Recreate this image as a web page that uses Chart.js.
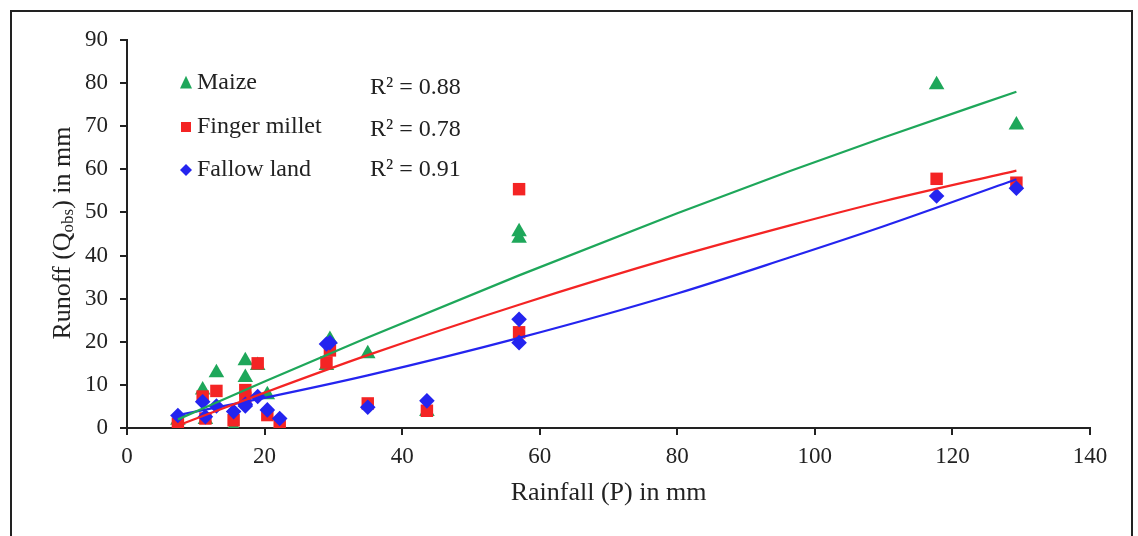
<!DOCTYPE html>
<html>
<head>
<meta charset="utf-8">
<script src="https://cdn.jsdelivr.net/npm/chart.js"></script>
<style>
  body { margin: 0; background: #fff; }
  #wrap { width: 1138px; height: 536px; }
</style>
</head>
<body>
<div id="wrap"><canvas id="grafico" width="1138" height="536"></canvas></div>
<script>
// Rainfall events (P, mm) and observed runoff (Q obs, mm) per land use
const rainfall     = [7.4, 11.0, 11.4, 13.0, 15.5, 17.2, 17.2, 19.0, 20.4, 22.2, 29.0, 29.5, 35.0, 43.6, 57.0, 57.0, 117.7, 129.3];
const maize        = [1.8, 8.8, 2.0, 12.8, 0.2, 15.6, 11.7, 14.5, 7.7, 0.5, 14.5, 20.5, 17.2, 3.8, 45.5, 44.0, 79.6, 70.3];
const fingerMillet = [1.0, 7.3, 2.2, 8.6, 1.8, 8.8, 7.0, 15.0, 3.0, 1.0, 15.2, 18.0, 5.7, 4.0, 55.4, 22.2, 57.8, 56.9];
const fallowLand   = [2.9, 6.1, 2.6, 5.1, 3.8, 5.1, 5.5, 7.3, 4.2, 2.2, 19.5, 19.8, 4.8, 6.3, 25.2, 19.8, 53.8, 55.6];

// trendlines
const trendX       = [7.4, 20, 35, 57, 80, 96.4, 110, 129.3];
const trendMaize   = [2.0, 10.8, 21.0, 35.4, 49.8, 59.6, 67.4, 78.0];
const trendMillet  = [0.6, 8.2, 16.9, 28.6, 39.8, 47.0, 52.6, 59.7];
const trendFallow  = [3.0, 7.0, 12.2, 20.9, 31.2, 39.6, 46.8, 57.7];

const seriesNames = ["Maize", "Finger millet", "Fallow land"];
const r2Values    = ["0.88", "0.78", "0.91"];
const colores     = ["#1ea75a", "#f42424", "#2424ef"];

const xTicks = [0, 20, 40, 60, 80, 100, 120, 140];
const yTicks = [0, 10, 20, 30, 40, 50, 60, 70, 80, 90];

const serif = "'Liberation Serif', 'Times New Roman', serif";
const ink = "#222";

function puntos(xs, ys) {
    return xs.map((x, i) => ({ x: x, y: ys[i] }));
}

function marcador(ctx, tipo, x, y, s, color) {
    ctx.fillStyle = color;
    ctx.beginPath();
    if (tipo === "triangle") {
        ctx.moveTo(x, y - s * 0.6);
        ctx.lineTo(x + s / 2, y + s * 0.45);
        ctx.lineTo(x - s / 2, y + s * 0.45);
    } else if (tipo === "rect") {
        ctx.rect(x - s / 2, y - s / 2, s, s);
    } else {
        ctx.moveTo(x, y - s / 2);
        ctx.lineTo(x + s / 2, y);
        ctx.lineTo(x, y + s / 2);
        ctx.lineTo(x - s / 2, y);
    }
    ctx.closePath();
    ctx.fill();
}

const extras = {
    id: "extras",
    beforeDraw(chart) {
        const ctx = chart.ctx;
        ctx.save();
        ctx.fillStyle = "#fff";
        ctx.fillRect(0, 0, chart.width, chart.height);
        ctx.strokeStyle = ink;
        ctx.lineWidth = 2;
        ctx.strokeRect(11, 11, 1121, 540);
        ctx.restore();
    },
    afterDraw(chart) {
        const ctx = chart.ctx;
        ctx.save();
        // legend + R² labels
        const tipos = ["triangle", "rect", "rectRot"];
        const tamanos = [12, 10, 12];
        const filasLeyenda = [83, 127, 170];
        const filasR2 = [88, 130, 170];
        ctx.font = "24px " + serif;
        ctx.textBaseline = "middle";
        ctx.textAlign = "left";
        seriesNames.forEach((nombre, i) => {
            marcador(ctx, tipos[i], 186, filasLeyenda[i], tamanos[i], colores[i]);
            ctx.fillStyle = ink;
            ctx.fillText(nombre, 197, filasLeyenda[i]);
            ctx.fillText("R\u00B2 = " + r2Values[i], 370, filasR2[i]);
        });

        // y axis title with subscript
        const partes = [["Runoff (Q", 26, 0], ["obs", 17, 6], [") in mm", 26, 0]];
        let total = 0;
        partes.forEach(p => { ctx.font = p[1] + "px " + serif; total += ctx.measureText(p[0]).width; });
        ctx.translate(63, 233);
        ctx.rotate(-Math.PI / 2);
        let xx = -total / 2;
        ctx.fillStyle = ink;
        partes.forEach(p => {
            ctx.font = p[1] + "px " + serif;
            ctx.fillText(p[0], xx, p[2]);
            xx += ctx.measureText(p[0]).width;
        });
        ctx.restore();
    }
};

const ctx = document.getElementById("grafico").getContext("2d");

new Chart(ctx, {
    type: "scatter",
    data: {
        datasets: [
            { label: "Maize trend", data: puntos(trendX, trendMaize), showLine: true, borderColor: colores[0], borderWidth: 2.2, pointRadius: 0, cubicInterpolationMode: "monotone", order: 0 },
            { label: "Finger millet trend", data: puntos(trendX, trendMillet), showLine: true, borderColor: colores[1], borderWidth: 2.2, pointRadius: 0, cubicInterpolationMode: "monotone", order: 0 },
            { label: "Fallow land trend", data: puntos(trendX, trendFallow), showLine: true, borderColor: colores[2], borderWidth: 2.2, pointRadius: 0, cubicInterpolationMode: "monotone", order: 0 },
            { label: seriesNames[2], data: puntos(rainfall, fallowLand), pointStyle: "rectRot", pointRadius: 7.8, backgroundColor: colores[2], borderWidth: 0, order: 1 },
            { label: seriesNames[1], data: puntos(rainfall, fingerMillet), pointStyle: "rect", pointRadius: 8.8, backgroundColor: colores[1], borderWidth: 0, order: 2 },
            { label: seriesNames[0], data: puntos(rainfall, maize), pointStyle: "triangle", pointRadius: 9, backgroundColor: colores[0], borderWidth: 0, order: 3 }
        ]
    },
    options: {
        responsive: false,
        animation: false,
        layout: { padding: { top: 40, right: 48, left: 0, bottom: 0 } },
        plugins: { legend: { display: false }, tooltip: { enabled: false } },
        scales: {
            x: {
                type: "linear",
                min: 0, max: 140,
                afterFit(scale) { scale.height = 108; },
                afterBuildTicks(scale) { scale.ticks = xTicks.map(v => ({ value: v })); },
                grid: { drawOnChartArea: false, drawTicks: true, tickLength: 7, color: ink, lineWidth: 2 },
                border: { display: true, color: ink, width: 2 },
                ticks: { color: ink, font: { family: serif, size: 23 }, padding: 8 },
                title: { display: true, text: "Rainfall (P) in mm", color: ink, font: { family: serif, size: 26 }, padding: { top: 0, bottom: 27 } }
            },
            y: {
                type: "linear",
                min: 0, max: 90,
                afterFit(scale) { scale.width = 127; },
                afterBuildTicks(scale) { scale.ticks = yTicks.map(v => ({ value: v })); },
                grid: { drawOnChartArea: false, drawTicks: true, tickLength: 7, color: ink, lineWidth: 2 },
                border: { display: true, color: ink, width: 2 },
                ticks: { color: ink, font: { family: serif, size: 23 }, padding: 12 }
            }
        }
    },
    plugins: [extras]
});
</script>
</body>
</html>
